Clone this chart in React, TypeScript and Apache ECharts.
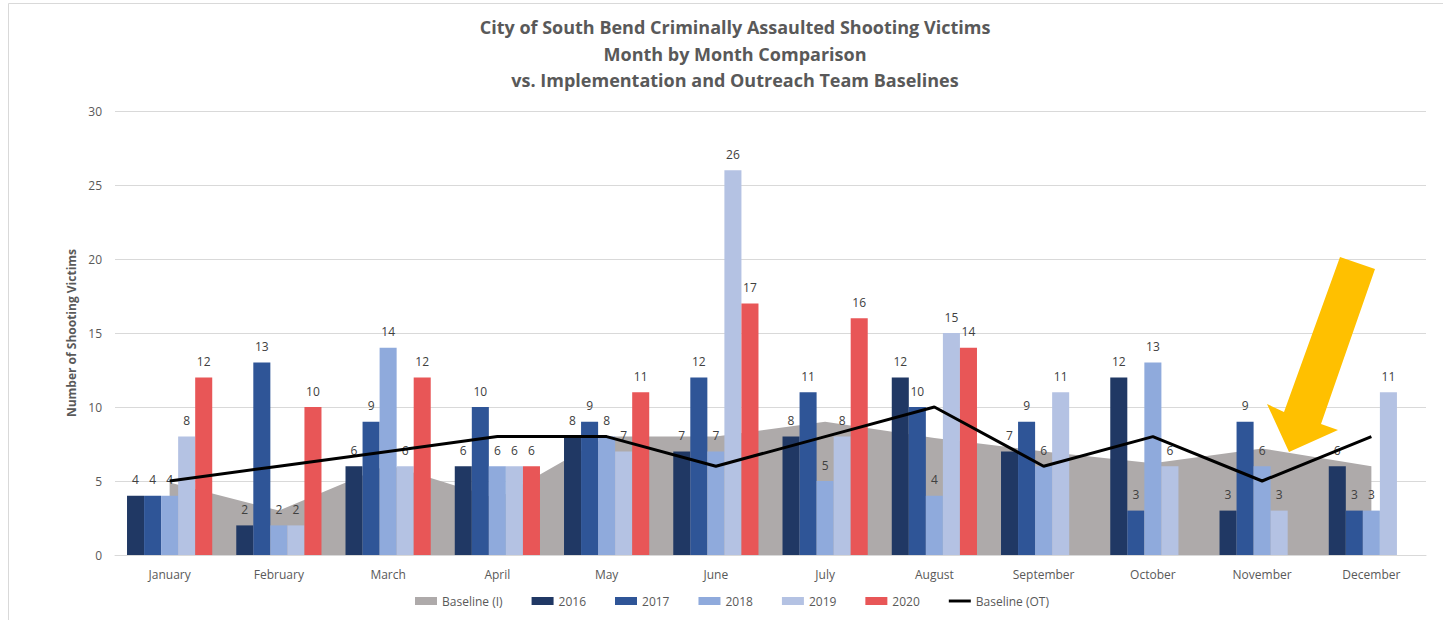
import React, { useEffect, useRef } from "react";
import * as echarts from "echarts";

const months = ["January", "February", "March", "April", "May", "June", "July", "August", "September", "October", "November", "December"];
const baselineI = [4.9, 3.0, 6.1, 3.8, 8.0, 8.0, 9.0, 7.9, 7.0, 6.2, 7.2, 6.0];
const y2016 = [4, 2, 6, 6, 8, 7, 8, 12, 7, 12, 3, 6];
const y2017 = [4, 13, 9, 10, 9, 12, 11, 10, 9, 3, 9, 3];
const y2018 = [4, 2, 14, 6, 8, 7, 5, 4, 6, 13, 6, 3];
const y2019 = [8, 2, 6, 6, 7, 26, 8, 15, 11, 6, 3, 11];
const y2020 = [12, 10, 12, 6, 11, 17, 16, 14, null, null, null, null];
const baselineOT = [5, 6, 7, 8, 8, 6, 8, 10, 6, 8, 5, 8];
const yTicks = { min: 0, max: 30, interval: 5 };

const FONT = "'Open Sans', sans-serif";
const TXT = "#595959";

const barSeries = (name: string, data: (number | null)[], color: string) => ({
  name,
  type: "bar",
  data,
  z: 2,
  barGap: "0%",
  barCategoryGap: "22%",
  itemStyle: { color },
  label: {
    show: true,
    position: "top",
    distance: 10,
    color: "#404040",
    fontSize: 12,
    fontFamily: FONT,
  },
});

export default function App() {
  const ref = useRef<HTMLDivElement>(null);
  useEffect(() => {
    if (!ref.current) return;
    const chart = echarts.init(ref.current, null, { renderer: "svg" });
    chart.setOption({
      animation: false,
      backgroundColor: "#ffffff",
      textStyle: { fontFamily: FONT },
      title: {
        text: "City of South Bend Criminally Assaulted Shooting Victims\nMonth by Month Comparison\nvs. Implementation and Outreach Team Baselines",
        left: 730,
        top: 9,
        textAlign: "center",
        textStyle: { fontSize: 18, fontWeight: "bold", color: TXT, lineHeight: 26.5, fontFamily: FONT },
      },
      grid: { left: 115, right: 17, top: 111, bottom: 65, containLabel: false },
      legend: {
        bottom: 8,
        left: 410,
        itemWidth: 22,
        itemHeight: 8,
        itemGap: 29,
        textStyle: { color: TXT, fontSize: 12, fontFamily: FONT },
        data: [
          { name: "Baseline (I)", icon: "rect" },
          { name: "2016", icon: "rect" },
          { name: "2017", icon: "rect" },
          { name: "2018", icon: "rect" },
          { name: "2019", icon: "rect" },
          { name: "2020", icon: "rect" },
          { name: "Baseline (OT)", icon: "path://M0,0 H30 V4 H0 Z" },
        ],
      },
      xAxis: {
        type: "category",
        data: months,
        axisLine: { lineStyle: { color: "#d9d9d9" } },
        axisTick: { show: false },
        axisLabel: { color: TXT, fontSize: 12, margin: 13, fontFamily: FONT },
      },
      yAxis: {
        type: "value",
        min: yTicks.min,
        max: yTicks.max,
        interval: yTicks.interval,
        name: "Number of Shooting Victims",
        nameLocation: "middle",
        nameGap: 37,
        nameTextStyle: { color: TXT, fontSize: 12, fontWeight: "bold", fontFamily: FONT },
        axisLine: { show: false },
        axisTick: { show: false },
        axisLabel: { color: TXT, fontSize: 12, margin: 13, fontFamily: FONT },
        splitLine: { lineStyle: { color: "#d9d9d9" } },
      },
      series: [
        {
          name: "Baseline (I)",
          type: "line",
          data: baselineI,
          z: 1,
          symbol: "none",
          itemStyle: { color: "#AEAAAA" },
          lineStyle: { width: 0, color: "#AEAAAA" },
          areaStyle: { color: "#AEAAAA", opacity: 1 },
        },
        barSeries("2016", y2016, "#203864"),
        barSeries("2017", y2017, "#2F5597"),
        barSeries("2018", y2018, "#8FAADC"),
        barSeries("2019", y2019, "#B4C2E3"),
        barSeries("2020", y2020, "#E85657"),
        {
          name: "Baseline (OT)",
          type: "line",
          data: baselineOT,
          z: 5,
          symbol: "none",
          itemStyle: { color: "#000000" },
          lineStyle: { width: 3, color: "#000000" },
        },
      ],
      graphic: [
        {
          type: "rect",
          shape: { x: 8.5, y: 3.5, width: 1500, height: 700 },
          style: { fill: "none", stroke: "#d9d9d9", lineWidth: 1 },
          silent: true,
        },
        {
          type: "polygon",
          z: 100,
          shape: {
            points: [
              [1340, 257],
              [1375, 269],
              [1321, 424],
              [1338, 430],
              [1289, 452],
              [1267, 404],
              [1284, 412],
            ],
          },
          style: { fill: "#FFC000" },
        },
      ],
    });
    return () => chart.dispose();
  }, []);
  return <div ref={ref} style={{ position: "absolute", left: 0, top: 0, width: 1443, height: 620 }} />;
}
